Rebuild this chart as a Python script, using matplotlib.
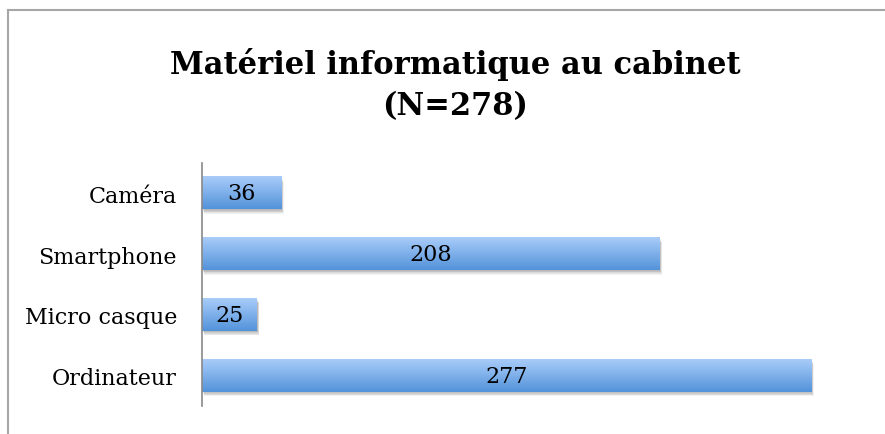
import matplotlib.pyplot as plt
import numpy as np
from matplotlib.colors import LinearSegmentedColormap
from matplotlib.patches import Rectangle

# Data
categories = ['Ordinateur', 'Micro casque', 'Smartphone', 'Caméra']
values = [277, 25, 208, 36]
title = 'Matériel informatique au cabinet\n(N=278)'

serif = ['DejaVu Serif']

fig = plt.figure(figsize=(8.85, 4.35), dpi=100, facecolor='white')
ax = fig.add_axes([202 / 885, 1 - 407 / 435, 660 / 885, 243 / 435])

# frame of the chart area (top and left visible only)
fig.add_artist(plt.Line2D([8 / 885, 1], [1 - 11 / 435] * 2, color='#A6A6A6', lw=1.5))
fig.add_artist(plt.Line2D([8 / 885] * 2, [0, 1 - 11 / 435], color='#A6A6A6', lw=1.5))

ax.set_xlim(0, 300)
ax.set_ylim(-0.5, len(categories) - 0.5)

bar_h = 0.53
grad = LinearSegmentedColormap.from_list('g', ['#5393DA', '#A9CCF9'])
gimg = np.linspace(0, 1, 64).reshape(-1, 1)

bars = ax.barh(range(len(categories)), values, height=bar_h, color='none')
for i, (bar, v) in enumerate(zip(bars, values)):
    x0, y0 = bar.get_x(), bar.get_y()
    w, h = bar.get_width(), bar.get_height()
    # soft shadow under the bar
    for k in range(6):
        ax.add_patch(Rectangle((x0 + 0.3 + k * 0.15, y0 - 0.012 - k * 0.012), w, h,
                               color='#000000', alpha=0.05, lw=0, zorder=1))
    ax.imshow(gimg, cmap=grad, aspect='auto', origin='lower',
              extent=[x0, x0 + w, y0, y0 + h], zorder=2)
    ax.text(x0 + w / 2, i, str(v), ha='center', va='center',
            fontsize=16, family=serif, color='black', zorder=3)

ax.set_yticks(range(len(categories)))
ax.set_yticklabels(categories, family=serif, fontsize=16)
ax.tick_params(axis='y', length=0, pad=18)
ax.set_xticks([])
for s in ['top', 'right', 'bottom']:
    ax.spines[s].set_visible(False)
ax.spines['left'].set_color('#898989')
ax.spines['left'].set_linewidth(1.2)
ax.set_xlim(0, 300)
ax.set_ylim(-0.5, len(categories) - 0.5)

fig.text(455 / 885, 1 - 85 / 435, title, ha='center', va='center',
         fontsize=22, fontweight='bold', family=serif, linespacing=1.4)

fig.savefig('out.png', dpi=100, facecolor='white')
